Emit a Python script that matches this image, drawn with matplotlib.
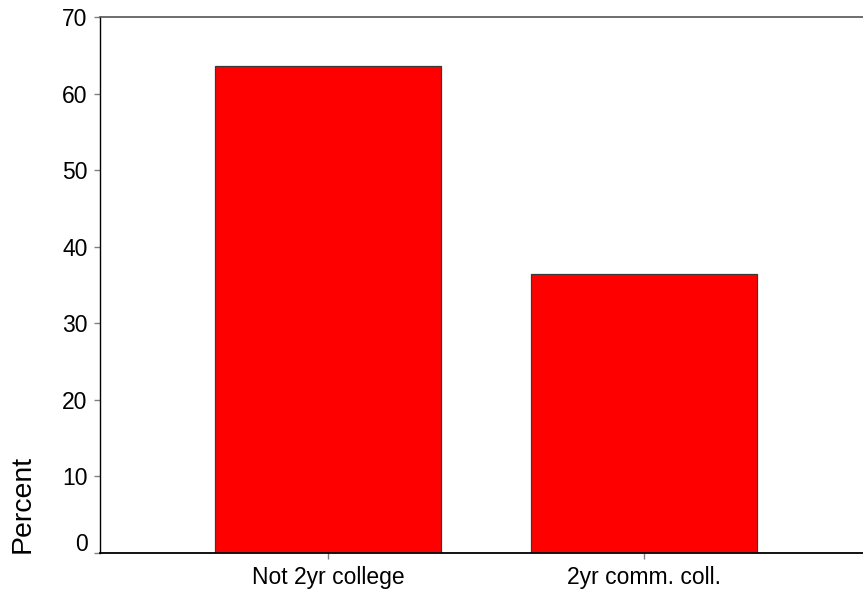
import matplotlib
matplotlib.use("Agg")
import matplotlib.pyplot as plt
import matplotlib.transforms as mtransforms

categories = ["Not 2yr college", "2yr comm. coll."]
percents = [63.6, 36.4]
yticks = [0, 10, 20, 30, 40, 50, 60, 70]

plt.rcParams['font.family'] = ['Liberation Sans', 'DejaVu Sans']

fig = plt.figure(figsize=(8.63, 5.94), dpi=100)
ax = fig.add_axes([99.5/863, 41/594, 1 - 99.5/863, 536/594])

x = list(range(len(categories)))
ax.bar(x, percents, width=226/316, color="#FF0000", edgecolor="#3a3a3a", linewidth=0.9)

ax.set_xlim(-0.723, 1.693)
ax.set_ylim(0, 70)
ax.set_yticks(yticks)
ax.set_yticklabels([str(v) for v in yticks])
ax.set_xticks(x)
ax.set_xticklabels(categories)

ax.tick_params(axis='both', labelsize=16.5, colors='#808080', labelcolor='black', length=4.5, width=1.0)
ax.tick_params(axis='y', pad=4)
ax.tick_params(axis='x', pad=5)

ax.spines['right'].set_visible(False)
ax.spines['top'].set_color('#555555')
ax.spines['top'].set_linewidth(1.2)
ax.spines['left'].set_color('black')
ax.spines['left'].set_linewidth(1.0)
ax.spines['bottom'].set_color('black')
ax.spines['bottom'].set_linewidth(1.3)

# shift the "0" label up slightly, as in the reference
lbl0 = ax.get_yticklabels()[0]
lbl0.set_transform(lbl0.get_transform() + mtransforms.ScaledTranslation(0, 11/100, fig.dpi_scale_trans))

ax.set_ylabel("Percent", fontsize=20.5, loc='bottom')
ax.yaxis.set_label_coords(-0.084, 0.0)

fig.savefig("out.png", dpi=100)
